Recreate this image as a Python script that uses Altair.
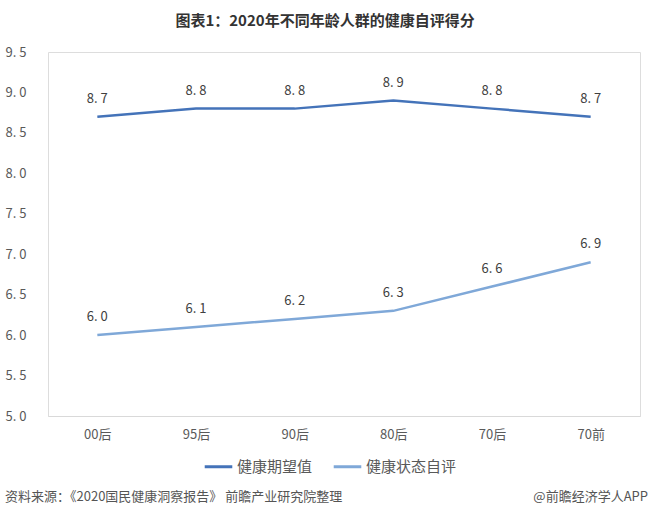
import altair as alt
import pandas as pd

categories = ["00后", "95后", "90后", "80后", "70后", "70前"]
series_names = ["健康期望值", "健康状态自评"]
expect_vals = [8.7, 8.8, 8.8, 8.9, 8.8, 8.7]
self_vals = [6.0, 6.1, 6.2, 6.3, 6.6, 6.9]
colors = ["#4473B9", "#7FA8D8"]

rows = []
for c, v in zip(categories, expect_vals):
    rows.append({"cat": c, "series": series_names[0], "value": v})
for c, v in zip(categories, self_vals):
    rows.append({"cat": c, "series": series_names[1], "value": v})
df = pd.DataFrame(rows)

FONT = "Noto Sans CJK SC"
PL, PT = 48, 52
W, H = 592, 364

x = alt.X("cat:N", sort=categories, title=None,
          scale=alt.Scale(paddingInner=0, paddingOuter=0.5),
          axis=alt.Axis(labelAngle=0, ticks=False, domain=True, domainColor="#D9D9D9",
                        domainWidth=1, labelFont=FONT, labelFontSize=13,
                        labelColor="#595959", labelPadding=12, grid=False))
y = alt.Y("value:Q", title=None,
          scale=alt.Scale(domain=[5, 9.5], nice=False, zero=False),
          axis=alt.Axis(values=[5, 5.5, 6, 6.5, 7, 7.5, 8, 8.5, 9, 9.5],
                        labelExpr="replace(format(datum.value, '.1f'), '.', '. ')",
                        ticks=False, domain=False, grid=False, labelAlign="left",
                        labelPadding=43, labelFont=FONT, labelFontSize=13,
                        labelColor="#595959"))

color = alt.Color("series:N", sort=series_names,
                  scale=alt.Scale(domain=series_names, range=colors),
                  legend=alt.Legend(title=None, orient="none", direction="horizontal",
                                    legendX=155, legendY=399, symbolType="stroke",
                                    symbolSize=760, symbolStrokeWidth=3,
                                    labelFont=FONT, labelFontSize=15,
                                    labelColor="#595959", columnPadding=14,
                                    labelOffset=3))

lines = alt.Chart(df).mark_line(strokeWidth=2.5).encode(x=x, y=y, color=color)
labels = alt.Chart(df).mark_text(dy=-18, font=FONT, fontSize=13, color="#404040").encode(
    x=alt.X("cat:N", sort=categories),
    y="value:Q",
    text=alt.Text("label:N"),
).transform_calculate(label="replace(format(datum.value, '.1f'), '.', '. ')")

one = pd.DataFrame({"t": [0]})
title = alt.Chart(one).mark_text(text="图表1：2020年不同年龄人群的健康自评得分", font=FONT,
                                 fontSize=15, fontWeight="bold", color="#333333",
                                 align="center", baseline="middle").encode(
    x=alt.value(325 - PL), y=alt.value(21 - PT))
src = alt.Chart(one).mark_text(text="资料来源：《2020国民健康洞察报告》 前瞻产业研究院整理",
                               font=FONT, fontSize=13, color="#555555",
                               align="left", baseline="middle").encode(
    x=alt.value(5 - PL), y=alt.value(497 - PT))
brand = alt.Chart(one).mark_text(text="@前瞻经济学人APP", font=FONT, fontSize=13,
                                 color="#555555", align="right", baseline="middle").encode(
    x=alt.value(648 - PL), y=alt.value(497 - PT))

chart = alt.layer(lines, labels, title, src, brand).properties(
    width=W, height=H,
    autosize=alt.AutoSizeParams(type="none"),
    padding={"left": PL, "top": PT, "right": 650 - PL - W, "bottom": 517 - PT - H},
).configure_view(stroke=None).configure(background="white")

chart.save("out.html", embed_options={"renderer": "svg", "actions": False})
